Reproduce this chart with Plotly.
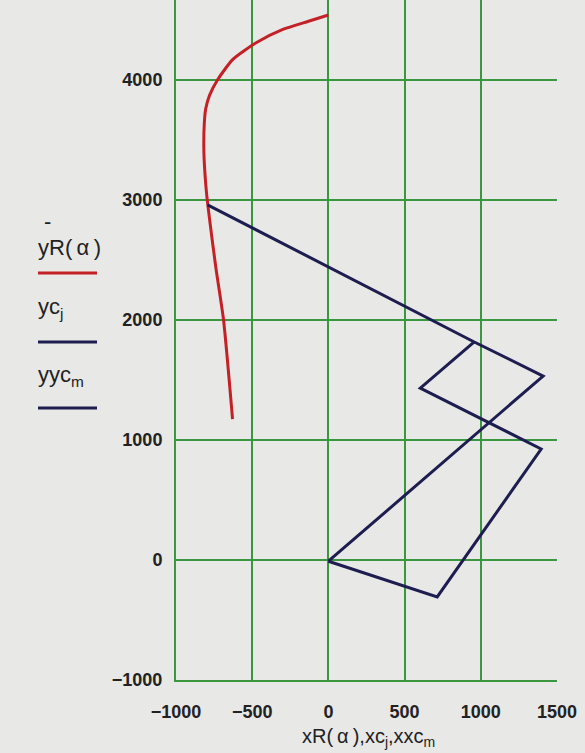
import plotly.graph_objects as go

# Red curve: xR(α), yR(α)
xR = [0, -125, -299, -474, -627, -725, -780, -805, -815, -817, -806, -791, -740, -688, -629]
yR = [4542, 4492, 4422, 4311, 4172, 4006, 3872, 3760, 3620, 3400, 3150, 2956, 2450, 2000, 1175]

# Blue polyline: xc_j, yc_j
xc = [-793, 957, 1409, 0]
yc = [2960, 1817, 1533, -10]

# Blue polyline: xxc_m, yyc_m
xxc = [0, 714, 1396, 603, 957]
yyc = [-10, -308, 925, 1433, 1817]

x_ticks = [-1000, -500, 0, 500, 1000, 1500]
y_ticks = [-1000, 0, 1000, 2000, 3000, 4000]

W, H = 585, 753
L, R, T, B = 176, 28, 0, 73
PW, PH = W - L - R, H - T - B

def px(x):
    return (x - L) / PW

def py(y):
    return 1 - (y - T) / PH

RED = "#c42127"
NAVY = "#1d1d50"
GREEN = "#3a963f"
BG = "#e8e8e7"

fig = go.Figure()
fig.add_trace(go.Scatter(x=xR, y=yR, mode="lines", line=dict(color=RED, width=3, shape="spline", smoothing=0.6), showlegend=False))
fig.add_trace(go.Scatter(x=xc, y=yc, mode="lines", line=dict(color=NAVY, width=3), showlegend=False))
fig.add_trace(go.Scatter(x=xxc, y=yyc, mode="lines", line=dict(color=NAVY, width=3), showlegend=False))

font_tick = dict(family="Liberation Sans", size=18, color="#222222", weight="bold")

fig.update_xaxes(range=[-1000, 1500], tickvals=x_ticks,
                 ticktext=[str(v).replace("-", "\u2212") for v in x_ticks],
                 showgrid=True, gridcolor=GREEN, gridwidth=1.5,
                 zeroline=False, showline=True, linecolor=GREEN, linewidth=2,
                 mirror=False, tickfont=font_tick, ticklabelstandoff=14,
                 automargin=False)
fig.update_yaxes(range=[-1000, 4667], tickvals=y_ticks,
                 ticktext=[str(v).replace("-", "\u2212") for v in y_ticks],
                 showgrid=True, gridcolor=GREEN, gridwidth=1.5,
                 zeroline=False, showline=True, linecolor=GREEN, linewidth=2,
                 tickfont=font_tick, ticklabelstandoff=8, automargin=False)

ann_font = dict(family="Liberation Sans", size=22, color="#222222")
title_font = dict(family="Liberation Sans", size=20, color="#222222")
annotations = [
    dict(text="xR(\u2009\u03b1\u2009),xc<sub>j</sub>,xxc<sub>m</sub>", x=px(368), y=py(737),
         xref="paper", yref="paper", showarrow=False,
         xanchor="center", yanchor="middle", font=title_font),
    dict(text="-", x=px(47), y=py(222), xref="paper", yref="paper", showarrow=False,
         xanchor="center", yanchor="middle", font=ann_font),
    dict(text="yR(\u2009\u03b1\u2009)", x=px(36), y=py(247), xref="paper", yref="paper", showarrow=False,
         xanchor="left", yanchor="middle", font=ann_font),
    dict(text="yc<sub>j</sub>", x=px(36), y=py(308), xref="paper", yref="paper", showarrow=False,
         xanchor="left", yanchor="middle", font=ann_font),
    dict(text="yyc<sub>m</sub>", x=px(36), y=py(376), xref="paper", yref="paper", showarrow=False,
         xanchor="left", yanchor="middle", font=ann_font),
]
shapes = [
    dict(type="line", xref="paper", yref="paper", x0=px(38), x1=px(97), y0=py(273), y1=py(273),
         line=dict(color=RED, width=3)),
    dict(type="line", xref="paper", yref="paper", x0=px(38), x1=px(97), y0=py(342), y1=py(342),
         line=dict(color=NAVY, width=3)),
    dict(type="line", xref="paper", yref="paper", x0=px(38), x1=px(97), y0=py(408), y1=py(408),
         line=dict(color=NAVY, width=3)),
]

fig.update_layout(width=W, height=H, margin=dict(l=L, r=R, t=T, b=B),
                  paper_bgcolor=BG, plot_bgcolor=BG,
                  annotations=annotations, shapes=shapes)

fig.write_html("out.html", config={"displayModeBar": False},
               post_script="document.body.style.margin='0';document.body.style.background='#e8e8e7';")
